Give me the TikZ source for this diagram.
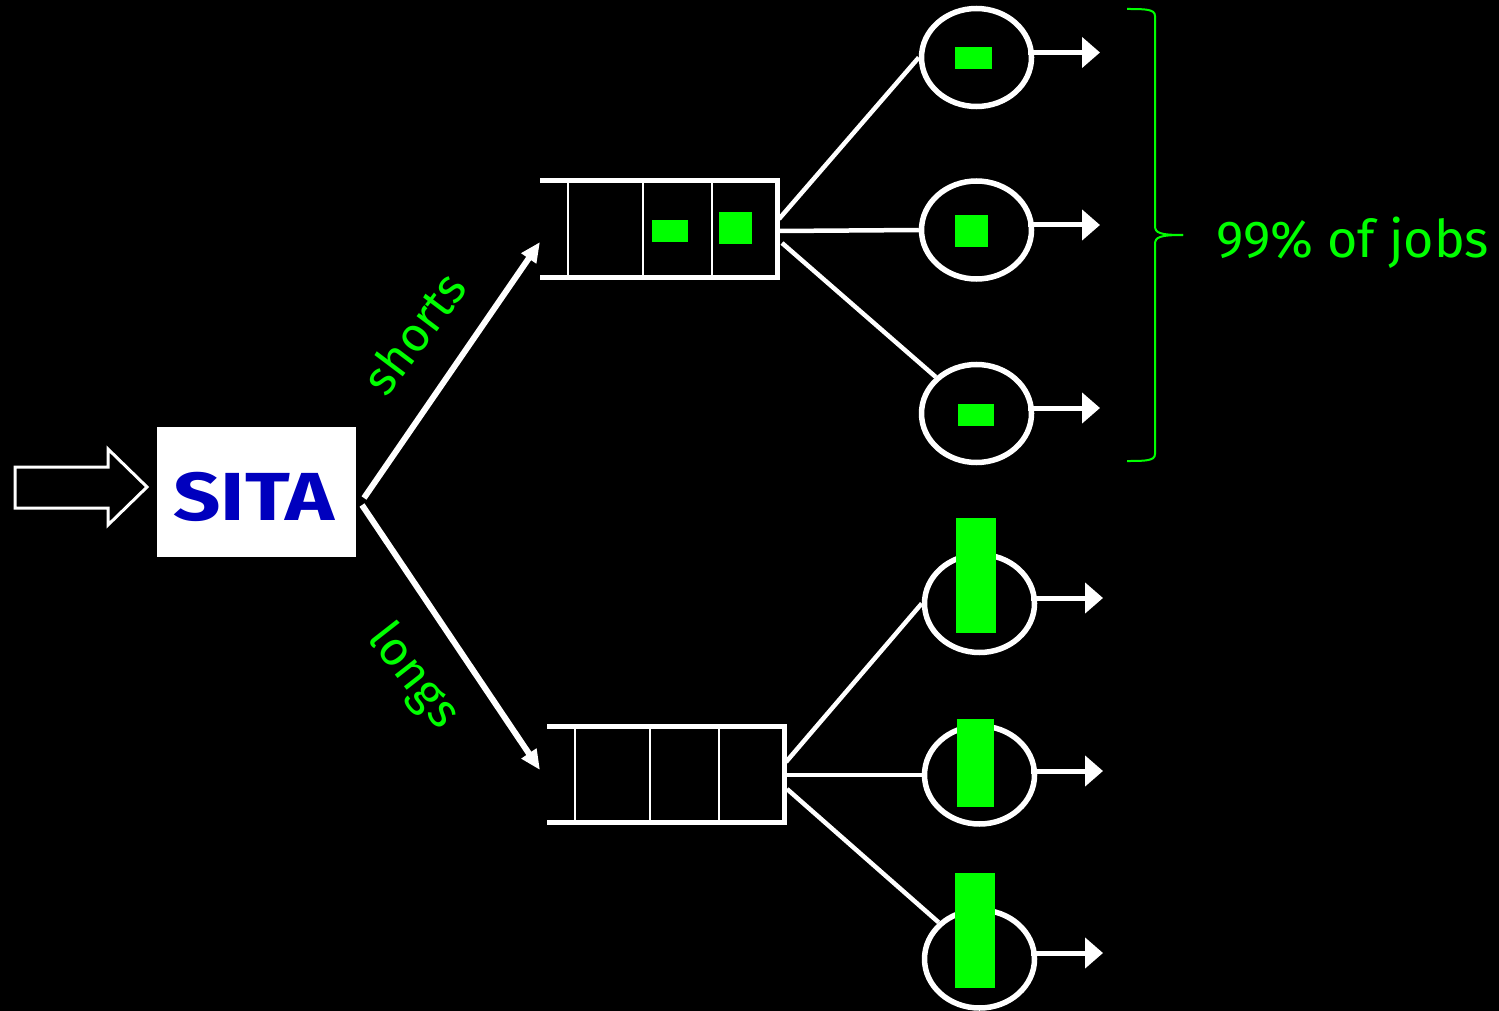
\documentclass[tikz,border=0pt]{standalone}
\usepackage{fontspec}
\setmainfont{Fira Sans}
\usetikzlibrary{arrows.meta,shapes.geometric}
\definecolor{grn}{HTML}{00FF00}
\definecolor{sblue}{HTML}{0000BE}
\begin{document}
\begin{tikzpicture}[x=1pt,y=-1pt,
  server/.style={draw=white,line width=5.5pt,ellipse,minimum width=110pt,minimum height=98pt,inner sep=0pt},
  job/.style={fill=grn,draw=none},
  qline/.style={draw=white,line width=5pt},
  qdiv/.style={draw=white,line width=2.5pt},
  link/.style={draw=white,line width=4.5pt},
  route/.style={draw=white,line width=6pt,-{Triangle[length=20pt,width=17pt]}},
  outarr/.style={draw=white,line width=5pt,-{Triangle[length=18pt,width=30pt]}},
  lbl/.style={text=grn,font=\fontsize{48}{48}\selectfont,inner sep=0pt}]
\fill[black] (0,0) rectangle (1499,1011);
\useasboundingbox (0,0) rectangle (1499,1011);

% input hollow arrow
\draw[white,line width=3pt,fill=black,line join=miter]
  (15,467) -- (108,467) -- (108,449) -- (147,487) -- (108,525) -- (108,508) -- (15,508) -- cycle;

% SITA box
\node[fill=white,minimum width=199pt,minimum height=130pt,inner sep=0pt] (sita) at (256.5,492) {};
\node[text=sblue,font=\bfseries\fontsize{68}{68}\selectfont,xscale=1.22,inner sep=0pt] (sitatxt) at (254,497) {SITA};

% routing arrows
\coordinate (sa) at (364,498);
\coordinate (sb) at (362,505);
\coordinate (q1in) at (540,242);
\coordinate (q2in) at (540,770);
\draw[route] (sa) -- (q1in);
\draw[route] (sb) -- (q2in);
\node[lbl,rotate=53] (shorts) at (414,333) {shorts};
\node[lbl,rotate=-52] (longs) at (413,677) {longs};

% queue 1
\node[minimum width=237pt,minimum height=96pt,inner sep=0pt] (q1) at (659,229) {};
\draw[qline] (540,181) -- (777,181) -- (777,277) -- (540,277);
\draw[qdiv] (568,181) -- (568,277);
\draw[qdiv] (643,181) -- (643,277);
\draw[qdiv] (712,181) -- (712,277);
\fill[job] (652,220) rectangle (688,242);
\fill[job] (719,212) rectangle (752,244);

% queue 2
\node[minimum width=237pt,minimum height=96pt,inner sep=0pt] (q2) at (666,774) {};
\draw[qline] (547,726) -- (784,726) -- (784,822) -- (547,822);
\draw[qdiv] (575,726) -- (575,822);
\draw[qdiv] (650,726) -- (650,822);
\draw[qdiv] (719,726) -- (719,822);

% servers top
\node[server] (s1) at (976.5,57.5) {};
\node[server] (s2) at (976.5,230) {};
\node[server] (s3) at (976.5,413.5) {};
\fill[job] (955,47) rectangle (992,69);
\fill[job] (955,215) rectangle (988,247);
\fill[job] (958,404) rectangle (994,426);

% servers bottom
\node[server] (b1) at (979.5,603.5) {};
\node[server] (b2) at (979.5,775) {};
\node[server] (b3) at (979.5,959) {};
\fill[job] (956,518) rectangle (996,633);
\fill[job] (957,719) rectangle (994,807);
\fill[job] (955,873) rectangle (995,988);

% links queue -> servers
\coordinate (q1a) at (779,219);
\coordinate (q1b) at (779,231);
\coordinate (q1c) at (782,243);
\coordinate (q2a) at (786,762);
\coordinate (q2b) at (786,775);
\coordinate (q2c) at (787,789);
\draw[link] (q1a) -- (s1.west);
\draw[link] (q1b) -- (s2.west);
\draw[link] (q1c) -- (s3.north west);
\draw[link] (q2a) -- (b1.west);
\draw[link] (q2b) -- (b2.west);
\draw[link] (q2c) -- (b3.north west);

% output arrows
\coordinate (o1) at (1100,52.5);
\coordinate (o2) at (1100,225);
\coordinate (o3) at (1100,408);
\coordinate (o4) at (1103,598);
\coordinate (o5) at (1103,771);
\coordinate (o6) at (1103,953);
\draw[outarr] (1028,52.5) -- (o1);
\draw[outarr] (1028,225) -- (o2);
\draw[outarr] (1028,408) -- (o3);
\draw[outarr] (1031,598) -- (o4);
\draw[outarr] (1031,771) -- (o5);
\draw[outarr] (1031,953) -- (o6);

% brace
\draw[grn,line width=2pt]
  (1127,9) .. controls (1145,9) and (1155,9) .. (1155,16)
  -- (1155,226) .. controls (1155,233) and (1160,235) .. (1183,235);
\draw[grn,line width=2pt]
  (1183,235) .. controls (1160,235) and (1155,237) .. (1155,244)
  -- (1155,454) .. controls (1155,461) and (1145,461) .. (1127,461);
\node[text=grn,font=\fontsize{52}{52}\selectfont,anchor=base west,inner sep=0pt] (pct) at (1216,257) {99\% of jobs};
\end{tikzpicture}
\end{document}
